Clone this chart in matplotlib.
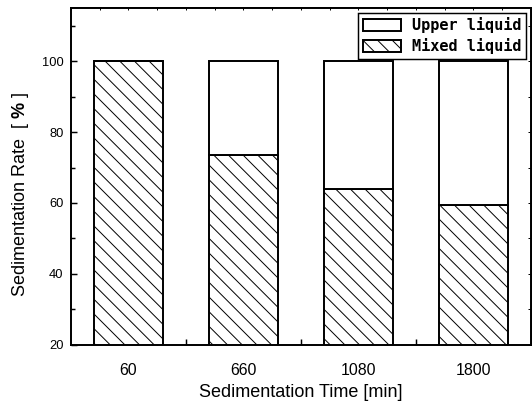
import matplotlib
matplotlib.use('Agg')
import matplotlib.pyplot as plt
import numpy as np
from matplotlib.ticker import MultipleLocator, FixedLocator, NullFormatter

# ---- data ----
times = ['60', '660', '1080', '1800']
mixed_liquid = [100.0, 73.5, 63.9, 59.5]
upper_liquid = [0.0, 26.5, 36.1, 40.5]
y_ticks = [20, 40, 60, 80, 100]

plt.rcParams['font.family'] = ['Liberation Sans', 'DejaVu Sans']
plt.rcParams['mathtext.fontset'] = 'custom'
plt.rcParams['mathtext.rm'] = 'Liberation Sans'
plt.rcParams['mathtext.bf'] = 'Liberation Sans:bold'
plt.rcParams['hatch.linewidth'] = 0.8

DPI = 88
W, H = 532, 409
fig = plt.figure(figsize=(W / DPI, H / DPI), dpi=DPI)
ax = fig.add_axes([71 / W, 1 - 344.5 / H, 460 / W, 337 / H])

x = np.arange(len(times))
ax.bar(x, mixed_liquid, width=0.6, color='white', edgecolor='black',
       linewidth=1.6, hatch='\\\\', label='Mixed liquid', zorder=2)
ax.bar(x, upper_liquid, width=0.6, bottom=mixed_liquid, color='white',
       edgecolor='black', linewidth=1.6, label='Upper liquid', zorder=2)

ax.set_xlim(-0.5, 3.5)
ax.set_ylim(20, 115.2)

# x ticks: labels at bar centers, major ticks between bars
ax.xaxis.set_major_locator(FixedLocator([0.5, 1.5, 2.5]))
ax.xaxis.set_major_formatter(NullFormatter())
ax.xaxis.set_minor_locator(FixedLocator([-0.25, 0, 0.25, 0.75, 1, 1.25, 1.75, 2, 2.25, 2.75, 3, 3.25]))
ax.xaxis.set_minor_formatter(NullFormatter())
for xi, t in zip(x, times):
    ax.annotate(t, xy=(xi, 0), xycoords=('data', 'axes fraction'),
                xytext=(0, -15.5), textcoords='offset points',
                ha='center', va='top', fontsize=13)

ax.yaxis.set_major_locator(FixedLocator(y_ticks))
ax.yaxis.set_minor_locator(MultipleLocator(10))
ax.tick_params(axis='y', which='major', direction='in', length=5, width=1.2,
               labelsize=10.5, pad=6)
ax.tick_params(axis='y', which='minor', direction='in', length=3.5, width=1.2)
ax.tick_params(axis='x', which='major', direction='in', length=5, width=1.2)
ax.tick_params(axis='x', which='minor', direction='in', length=2.5, width=1.0)

for s in ax.spines.values():
    s.set_linewidth(1.6)

# top / right ticks
top = ax.secondary_xaxis('top')
top.xaxis.set_major_locator(MultipleLocator(0.25))
top.xaxis.set_major_formatter(NullFormatter())
top.tick_params(direction='in', length=2.5, width=0.8)
right = ax.secondary_yaxis('right')
right.yaxis.set_major_locator(MultipleLocator(10))
right.yaxis.set_major_formatter(NullFormatter())
right.tick_params(direction='in', length=2.5, width=0.8)

ax.set_xlabel('Sedimentation Time [min]', fontsize=14.7)
ax.xaxis.set_label_coords(0.5, -0.117)
ax.set_ylabel(r'Sedimentation Rate  [ $\mathbf{\%}$ ]', fontsize=14.7)
ax.yaxis.set_label_coords(-0.087, 0.444)

handles, labels = ax.get_legend_handles_labels()
leg = ax.legend(handles[::-1], labels[::-1], loc='upper right',
                prop={'family': 'DejaVu Sans Mono', 'size': 12.5, 'weight': 'bold'},
                frameon=True, fancybox=False, framealpha=1, edgecolor='black',
                handlelength=2.5, handleheight=0.8, handletextpad=0.7,
                labelspacing=0.3, borderpad=0.3, borderaxespad=0.35)
leg.get_frame().set_linewidth(1.2)

fig.savefig('out.png', dpi=DPI)
